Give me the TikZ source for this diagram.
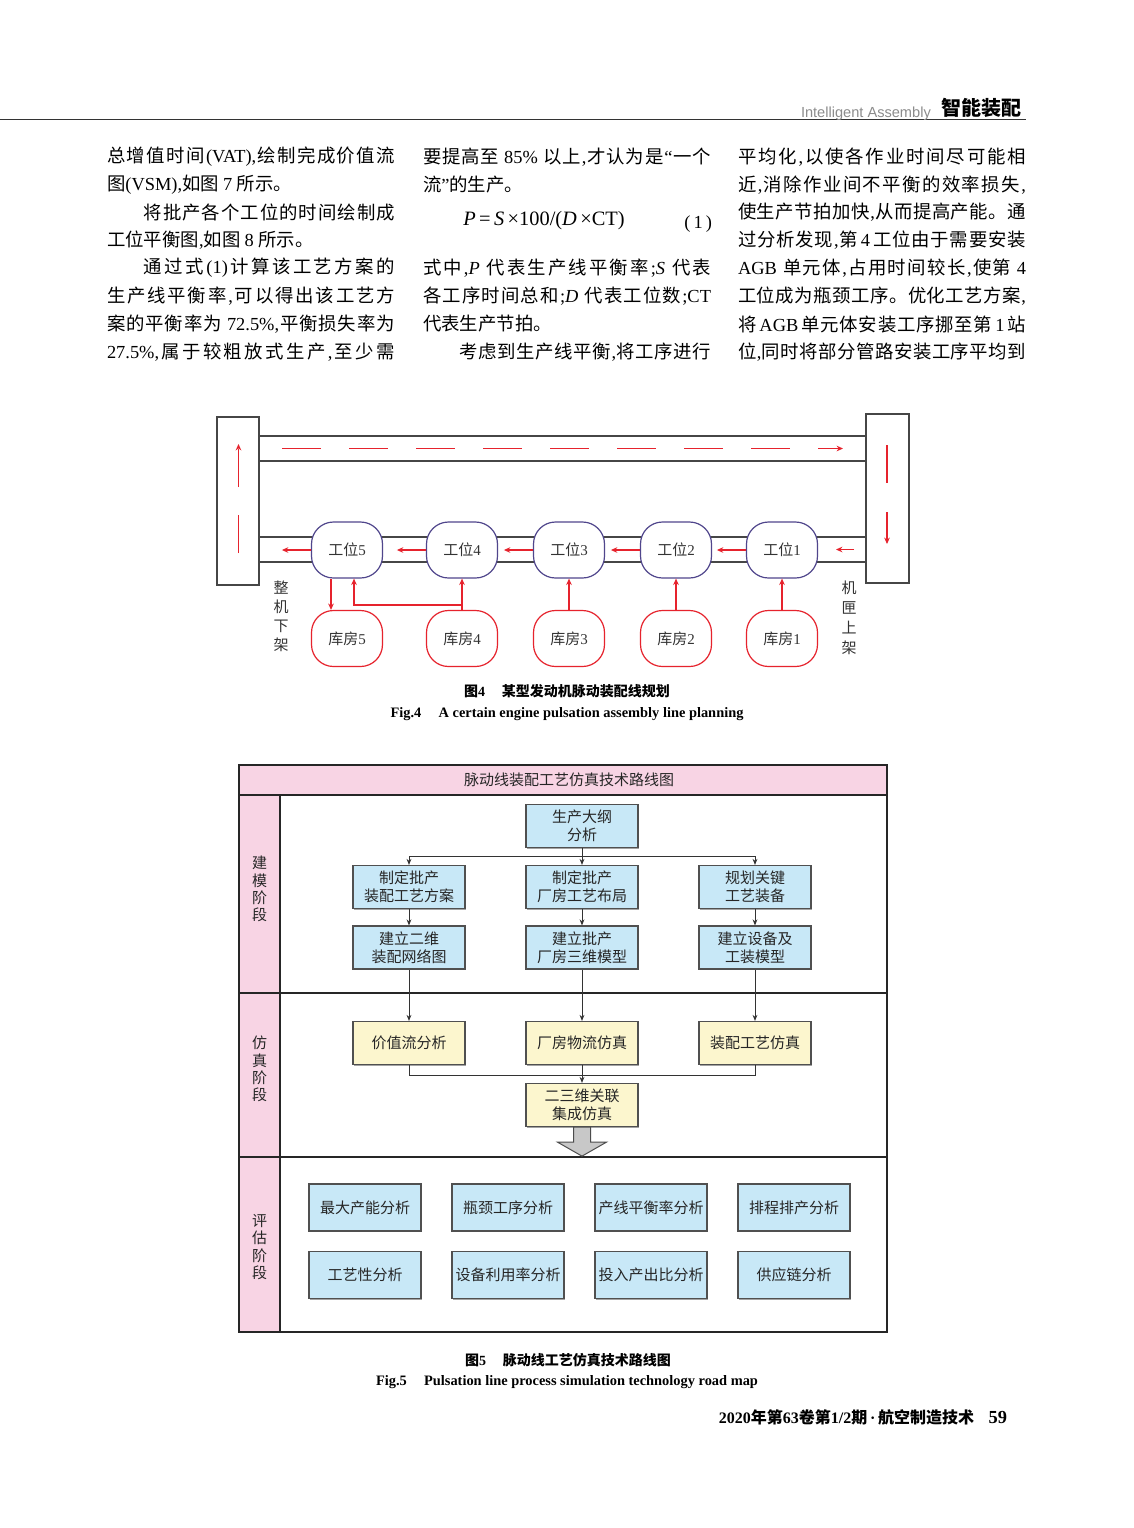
\documentclass[tikz,border=0pt]{standalone}
\usepackage{fontspec}
\setmainfont{Liberation Serif}
\newfontfamily\lat{Liberation Serif}
\newfontfamily\cjk{Noto Sans CJK SC}
\newfontfamily\hdrsans{Liberation Sans}
\usetikzlibrary{arrows.meta,shadows}
% automatic switching between Latin and CJK fonts
\XeTeXinterchartokenstate=1
\newXeTeXintercharclass\cjkcls
\newcount\cjkc
\cjkc="4E00
\loop\XeTeXcharclass\cjkc=\cjkcls\advance\cjkc by 1 \ifnum\cjkc<"A000 \repeat
\cjkc="3000
\loop\XeTeXcharclass\cjkc=\cjkcls\advance\cjkc by 1 \ifnum\cjkc<"3040 \repeat
\cjkc="FF00
\loop\XeTeXcharclass\cjkc=\cjkcls\advance\cjkc by 1 \ifnum\cjkc<"FFF0 \repeat
\def\cjkglue{}
\XeTeXinterchartoks 0 \cjkcls = {\cjkglue\cjk}
\XeTeXinterchartoks 4095 \cjkcls = {\cjk}
\XeTeXinterchartoks \cjkcls 0 = {\cjkglue\lat}
\XeTeXinterchartoks 4095 0 = {\lat}
\XeTeXinterchartoks \cjkcls \cjkcls = {\cjkglue}
\newcommand\fsz[1]{\fontsize{#1}{#1}\selectfont}
\newcommand\jline[1]{\hbox to 144pt{\def\cjkglue{\hskip 0pt plus 1pt\relax}#1}}
\newcommand\jlinei[1]{\hbox to 144pt{\def\cjkglue{\hskip 0pt plus 1pt\relax}\hskip 18.4pt\relax #1}}
\newcommand\lline[1]{\hbox{#1}}
\definecolor{redc}{RGB}{230,35,45}
\definecolor{purp}{RGB}{80,70,140}
\definecolor{beltg}{RGB}{70,70,70}
\definecolor{pinkc}{RGB}{248,212,228}
\definecolor{bluec}{RGB}{200,232,247}
\definecolor{yelc}{RGB}{252,246,206}
\definecolor{boxg}{RGB}{80,80,80}
\definecolor{hdrgray}{RGB}{140,140,140}
\definecolor{arrg}{RGB}{200,200,200}
\begin{document}
\begin{tikzpicture}[x=0.5pt,y=-0.5pt,
  txt/.style={inner sep=0pt,outer sep=0pt},
  body/.style={txt,anchor=west,font=\fsz{9.2}},
  belt/.style={draw=beltg,line width=0.75pt},
  beltbox/.style={draw=beltg,line width=0.75pt,inner sep=0pt},
  station/.style={draw=purp,line width=0.6pt,fill=white,rounded corners=11pt,
    minimum width=35.5pt,minimum height=28pt,inner sep=0pt,font=\fsz{7.5},text=black!80},
  ware/.style={station,draw=redc},
  rarr/.style={draw=redc,line width=0.6pt,-{Stealth[length=3.2pt,width=2.8pt]}},
  darr/.style={draw=black!80,line width=0.5pt,-{Stealth[length=3pt,width=2.4pt]}},
  dline/.style={draw=black!80,line width=0.5pt},
  sepline/.style={draw=black!85,line width=0.7pt},
  fbox/.style={draw=boxg,line width=0.6pt,fill=bluec,minimum width=56pt,minimum height=21.5pt,
    inner sep=1pt,align=center,font=\fontsize{7.5}{9}\selectfont,text=black!85,
    drop shadow={shadow xshift=0.6pt,shadow yshift=-0.6pt,fill=black!60,opacity=0.6}},
  ybox/.style={fbox,fill=yelc},
  ebox/.style={fbox,minimum height=23.5pt},
  stage/.style={txt,align=center,font=\fontsize{7.5}{8.6}\selectfont,text=black!85},
  capcn/.style={txt,font=\bfseries\fsz{7}},
  capen/.style={txt,font=\bfseries\fsz{7.2}}
  ]
\useasboundingbox (0,0) rectangle (1134,1528);
\fill[white] (0,0) rectangle (1134,1528);

% ---------------- header ----------------
\coordinate (hl) at (0,119.5);
\coordinate (hr) at (1026,119.5);
\draw[line width=0.75pt,black!80] (hl) -- (hr);
\node[txt,anchor=base west,text=hdrgray,font=\hdrsans\fsz{7.3}] (hdren) at (801,117)
  {\XeTeXinterchartokenstate=0 Intelligent Assembly};
\node[txt,anchor=base west,font=\bfseries\fsz{10}] (hdrcn) at (941,115) {智能装配};

% ---------------- body text ----------------
\node[body] (t11) at (107,157) {\jline{总增值时间(VAT),绘制完成价值流}};
\node[body] (t12) at (107,185) {\lline{图(VSM),如图 7 所示。}};
\node[body] (t13) at (107,212) {\jlinei{将批产各个工位的时间绘制成}};
\node[body] (t14) at (107,240) {\lline{工位平衡图,如图 8 所示。}};
\node[body] (t15) at (107,268) {\jlinei{通过式(1)计算该工艺方案的}};
\node[body] (t16) at (107,296) {\jline{生产线平衡率,可以得出该工艺方}};
\node[body] (t17) at (107,324) {\jline{案的平衡率为 72.5\%,平衡损失率为}};
\node[body] (t18) at (107,352) {\jline{27.5\%,属于较粗放式生产,至少需}};

\node[body] (t21) at (423,157) {\jline{要提高至 85\% 以上,才认为是“一个}};
\node[body] (t22) at (423,185) {\lline{流”的生产。}};
\node[txt,font=\fsz{10.2}] (formula) at (544,221)
  {\textit{P}\,=\,\textit{S}\,×100/(\textit{D}\,×CT)};
\node[txt,anchor=east,font=\fsz{9.2}] (eqno) at (712,224) {(\,1\,)};
\node[body] (t24) at (423,268) {\jline{式中,\textit{P} 代表生产线平衡率;\textit{S} 代表}};
\node[body] (t25) at (423,296) {\jline{各工序时间总和;\textit{D} 代表工位数;CT}};
\node[body] (t26) at (423,324) {\lline{代表生产节拍。}};
\node[body] (t27) at (423,352) {\jlinei{考虑到生产线平衡,将工序进行}};

\node[body] (t31) at (738,157) {\jline{平均化,以使各作业时间尽可能相}};
\node[body] (t32) at (738,185) {\jline{近,消除作业间不平衡的效率损失,}};
\node[body] (t33) at (738,212) {\jline{使生产节拍加快,从而提高产能。通}};
\node[body] (t34) at (738,240) {\jline{过分析发现,第\,4\,工位由于需要安装}};
\node[body] (t35) at (738,268) {\jline{AGB 单元体,占用时间较长,使第 4}};
\node[body] (t36) at (738,296) {\jline{工位成为瓶颈工序。优化工艺方案,}};
\node[body] (t37) at (738,324) {\jline{将\,AGB\,单元体安装工序挪至第\,1\,站}};
\node[body] (t38) at (738,352) {\jline{位,同时将部分管路安装工序平均到}};

% ---------------- figure 4 ----------------
\node[beltbox,minimum width=21pt,minimum height=84pt] (lbox) at (238,501) {};
\node[beltbox,minimum width=21.5pt,minimum height=84.5pt] (rbox) at (887.5,498.5) {};
\draw[belt] (259,436) -- (866,436);
\draw[belt] (259,461) -- (866,461);
\draw[belt] (259,537) -- (866,537);
\draw[belt] (259,562) -- (866,562);

\coordinate (topa) at (282,448.5);
\coordinate (topb) at (843,448.5);
\draw[rarr,dash pattern=on 19.5pt off 14pt] (topa) -- (topb);
\coordinate (lefta) at (238.5,553);
\coordinate (leftb) at (238.5,444);
\draw[rarr,dash pattern=on 19pt off 14pt] (lefta) -- (leftb);
\coordinate (righta) at (887,445);
\coordinate (rightb) at (887,544);
\draw[rarr,dash pattern=on 19pt off 14.5pt] (righta) -- (rightb);

\node[station] (s1) at (782,550) {工位1};
\node[station] (s2) at (676,550) {工位2};
\node[station] (s3) at (569,550) {工位3};
\node[station] (s4) at (462,550) {工位4};
\node[station] (s5) at (347,550) {工位5};
\node[ware] (w1) at (782,638.5) {库房1};
\node[ware] (w2) at (676,638.5) {库房2};
\node[ware] (w3) at (569,638.5) {库房3};
\node[ware] (w4) at (462,638.5) {库房4};
\node[ware] (w5) at (347,638.5) {库房5};

\coordinate (inR) at (854,549.5);
\draw[rarr] (inR) -- ++(-18,0);
\foreach \k in {1,2,3,4,5} {\draw[rarr] (s\k.west) -- ++(-29,0);}
\foreach \k in {1,2,3,4} {\draw[rarr] (w\k.north) -- (s\k.south);}
\draw[rarr] ([xshift=-8pt]s5.south) -- ([xshift=-8pt]w5.north);
\draw[rarr] ([yshift=2.5pt]w4.north) -| ([xshift=3.5pt]s5.south);

\node[txt,align=center,font=\fontsize{7.5}{9.5}\selectfont,text=black!80] (lblout) at (281,616) {整\\机\\下\\架};
\node[txt,align=center,font=\fontsize{7.5}{10}\selectfont,text=black!80] (lblin) at (849,618) {机\\匣\\上\\架};

\node[capcn] (cap4cn) at (567,691) {图4\hspace{1.2em}某型发动机脉动装配线规划};
\node[capen] (cap4en) at (567,714) {Fig.4\hspace{1.2em}A certain engine pulsation assembly line planning};

% ---------------- figure 5 ----------------
\fill[pinkc] (239,765) rectangle (887,795);
\fill[pinkc] (239,795) rectangle (280,1332);
\draw[sepline] (239,795) -- (887,795);
\draw[sepline] (280,795) -- (280,1332);
\draw[sepline] (239,993) -- (887,993);
\draw[sepline] (239,1157) -- (887,1157);
\draw[line width=0.8pt,black!85] (239,765) rectangle (887,1332);

\node[txt,font=\fsz{7.5},text=black!85] (f5title) at (569,780) {脉动线装配工艺仿真技术路线图};
\node[stage] (st1) at (259.5,889) {建\\模\\阶\\段};
\node[stage] (st2) at (259.5,1069) {仿\\真\\阶\\段};
\node[stage] (st3) at (259.5,1247) {评\\估\\阶\\段};

\node[fbox] (n0) at (582,826) {生产大纲\\分析};
\node[fbox] (a1) at (409,887) {制定批产\\装配工艺方案};
\node[fbox] (a2) at (582,887) {制定批产\\厂房工艺布局};
\node[fbox] (a3) at (755,887) {规划关键\\工艺装备};
\node[fbox] (b1) at (409,947.5) {建立二维\\装配网络图};
\node[fbox] (b2) at (582,947.5) {建立批产\\厂房三维模型};
\node[fbox] (b3) at (755,947.5) {建立设备及\\工装模型};
\node[ybox] (c1) at (409,1043) {价值流分析};
\node[ybox] (c2) at (582,1043) {厂房物流仿真};
\node[ybox] (c3) at (755,1043) {装配工艺仿真};
\node[ybox] (d) at (582,1105) {二三维关联\\集成仿真};

\coordinate (j1) at (582,856);
\draw[dline] (n0.south) -- (j1);
\draw[darr] (j1) -| (a1.north);
\draw[darr] (j1) -| (a3.north);
\draw[darr] (j1) -- (a2.north);
\foreach \k in {1,2,3} {\draw[darr] (a\k.south) -- (b\k.north);}
\foreach \k in {1,2,3} {\draw[darr] (b\k.south) -- (c\k.north);}
\coordinate (j2) at (582,1075);
\draw[dline] (c1.south) |- (j2);
\draw[dline] (c3.south) |- (j2);
\draw[darr] (c2.south) -- (d.north);
\draw[draw=black!70,fill=arrg,line width=0.5pt] (d.south) ++(-8.5,0) -- ++(0,15) -- ++(-16,0)
  -- ++(24.5,14) -- ++(24.5,-14) -- ++(-16,0) -- ++(0,-15) -- cycle;

\node[ebox] (e1) at (365,1207.5) {最大产能分析};
\node[ebox] (e2) at (508,1207.5) {瓶颈工序分析};
\node[ebox] (e3) at (651,1207.5) {产线平衡率分析};
\node[ebox] (e4) at (794,1207.5) {排程排产分析};
\node[ebox] (f1) at (365,1275) {工艺性分析};
\node[ebox] (f2) at (508,1275) {设备利用率分析};
\node[ebox] (f3) at (651,1275) {投入产出比分析};
\node[ebox] (f4) at (794,1275) {供应链分析};

\node[capcn] (cap5cn) at (568,1360) {图5\hspace{1.2em}脉动线工艺仿真技术路线图};
\node[capen] (cap5en) at (567,1382) {Fig.5\hspace{1.2em}Pulsation line process simulation technology road map};

% ---------------- footer ----------------
\node[txt,anchor=base east,font=\bfseries\fsz{8}] (foot) at (974,1423) {2020年第63卷第1/2期\,·\,航空制造技术};
\node[txt,anchor=base east,font=\bfseries\fsz{9.2}] (pg) at (1007,1423) {59};
\end{tikzpicture}
\end{document}
